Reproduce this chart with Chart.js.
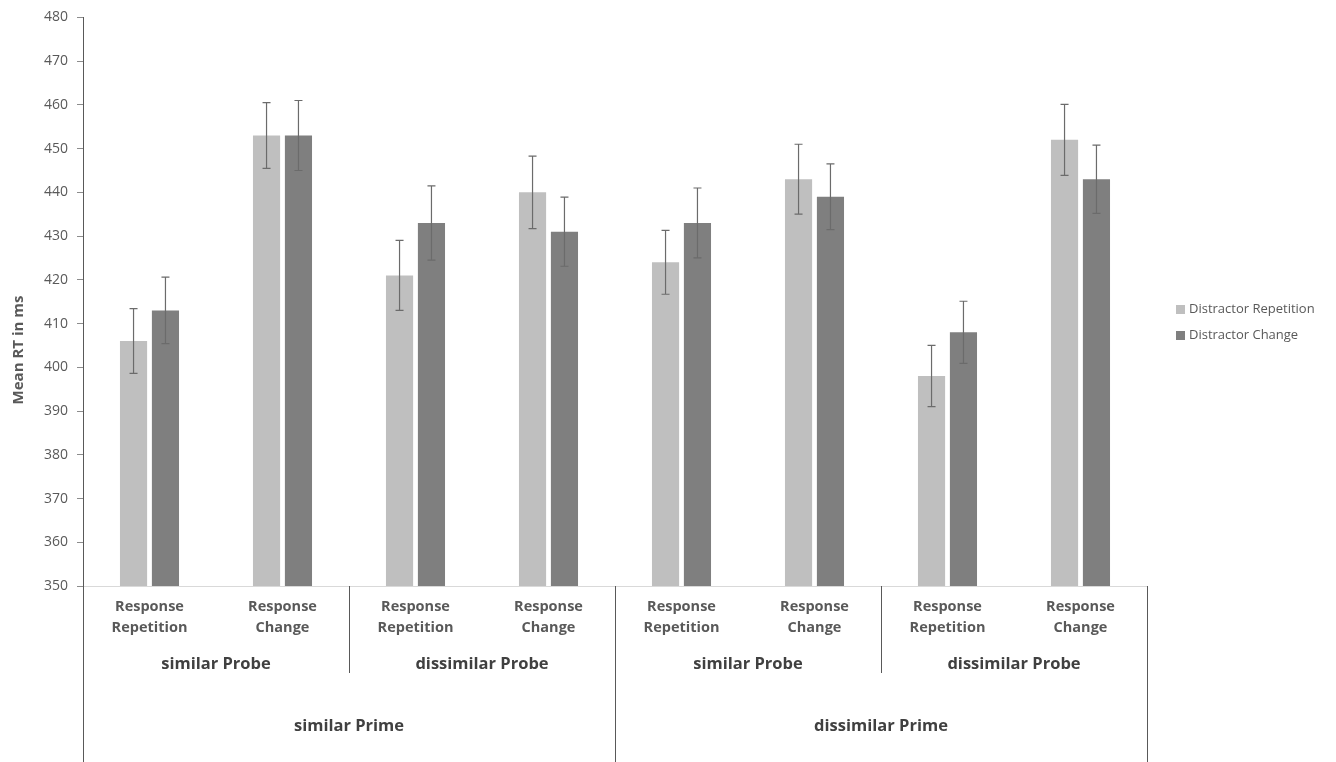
<!DOCTYPE html>
<html>
<head>
<meta charset="utf-8">
<title>Mean RT in ms</title>
<script src="https://cdn.jsdelivr.net/npm/chart.js@4.4.1/dist/chart.umd.min.js"></script>
<style>
  html, body { margin: 0; padding: 0; background: #ffffff; }
  #wrap { position: relative; width: 1336px; height: 762px; }
</style>
</head>
<body>
<div id="wrap"><canvas id="chart" width="1336" height="762"></canvas></div>
<script>
// data
const responseLabels = [
  ["Response", "Repetition"], ["Response", "Change"],
  ["Response", "Repetition"], ["Response", "Change"],
  ["Response", "Repetition"], ["Response", "Change"],
  ["Response", "Repetition"], ["Response", "Change"]
];
const probeLabels = ["similar Probe", "dissimilar Probe", "similar Probe", "dissimilar Probe"];
const primeLabels = ["similar Prime", "dissimilar Prime"];

const seriesNames = ["Distractor Repetition", "Distractor Change"];
const distractorRepetition = [406, 453, 421, 440, 424, 443, 398, 452];
const distractorChange = [413, 453, 433, 431, 433, 439, 408, 443];
const errRepetition = [7.4, 7.5, 8.0, 8.3, 7.3, 8.0, 7.0, 8.1];
const errChange = [7.6, 8.0, 8.5, 7.9, 8.0, 7.5, 7.1, 7.8];

const yTicks = { min: 350, max: 480, step: 10 };
const yTitle = "Mean RT in ms";

const FONT = "'Open Sans', Lato, sans-serif";
const LIGHT = "#bfbfbf";
const DARK = "#7f7f7f";

// error bars on top of each bar
const errorBars = {
  id: "errorBars",
  afterDatasetsDraw(chart) {
    const ctx = chart.ctx;
    const y = chart.scales.y;
    const errs = [errRepetition, errChange];
    ctx.save();
    ctx.strokeStyle = "#6b6b6b";
    ctx.lineWidth = 1.2;
    chart.data.datasets.forEach((ds, di) => {
      const meta = chart.getDatasetMeta(di);
      meta.data.forEach((bar, i) => {
        const v = ds.data[i];
        const top = y.getPixelForValue(v + errs[di][i]);
        const bot = y.getPixelForValue(v - errs[di][i]);
        ctx.beginPath();
        ctx.moveTo(bar.x, top); ctx.lineTo(bar.x, bot);
        ctx.moveTo(bar.x - 4, top); ctx.lineTo(bar.x + 4, top);
        ctx.moveTo(bar.x - 4, bot); ctx.lineTo(bar.x + 4, bot);
        ctx.stroke();
      });
    });
    ctx.restore();
  }
};

// three level category axis, y title and legend on the right
const groupAxis = {
  id: "groupAxis",
  afterDraw(chart) {
    const ctx = chart.ctx;
    const x = chart.scales.x;
    const area = chart.chartArea;
    const n = responseLabels.length;
    const edge = (k) => {
      if (k === 0) return area.left;
      if (k === n) return area.right;
      return (x.getPixelForValue(k - 1) + x.getPixelForValue(k)) / 2;
    };
    ctx.save();
    ctx.textAlign = "center";
    ctx.textBaseline = "middle";

    // level 1
    ctx.fillStyle = "#595959";
    ctx.font = "bold 14.5px " + FONT;
    responseLabels.forEach((lines, i) => {
      const cx = x.getPixelForValue(i);
      ctx.fillText(lines[0], cx, 607);
      ctx.fillText(lines[1], cx, 628);
    });

    // level 2
    ctx.fillStyle = "#404040";
    ctx.font = "bold 16.5px " + FONT;
    probeLabels.forEach((t, j) => {
      ctx.fillText(t, (edge(j * 2) + edge(j * 2 + 2)) / 2, 664);
    });

    // level 3
    primeLabels.forEach((t, j) => {
      ctx.fillText(t, (edge(j * 4) + edge(j * 4 + 4)) / 2, 726);
    });

    // separators
    ctx.strokeStyle = "#595959";
    ctx.lineWidth = 1;
    for (let k = 0; k <= n; k += 2) {
      const px = Math.round(edge(k)) + 0.5;
      const long = k % 4 === 0;
      ctx.beginPath();
      ctx.moveTo(px, area.bottom);
      ctx.lineTo(px, long ? 762 : 673);
      ctx.stroke();
    }

    // y title
    ctx.save();
    ctx.translate(19, 350);
    ctx.rotate(-Math.PI / 2);
    ctx.fillStyle = "#595959";
    ctx.font = "bold 15px " + FONT;
    ctx.fillText(yTitle, 0, 0);
    ctx.restore();

    // legend
    ctx.textAlign = "left";
    ctx.font = "13px " + FONT;
    chart.data.datasets.forEach((ds, di) => {
      const ly = 309 + di * 26;
      ctx.fillStyle = ds.backgroundColor;
      ctx.fillRect(1176, ly - 4, 9, 9);
      ctx.fillStyle = "#595959";
      ctx.fillText(ds.label, 1189, ly);
    });
    ctx.restore();
  }
};

const ctx = document.getElementById("chart").getContext("2d");

let config = {
  type: "bar",
  data: {
    labels: responseLabels.map(l => l.join(" ")),
    datasets: [
      {
        label: seriesNames[0],
        backgroundColor: LIGHT,
        data: distractorRepetition,
      },
      {
        label: seriesNames[1],
        backgroundColor: DARK,
        data: distractorChange,
      },
    ],
  },
  options: {
    responsive: false,
    animation: false,
    datasets: {
      bar: { barPercentage: 0.85, categoryPercentage: 0.48 }
    },
    layout: {
      padding: { top: 17, right: 189, bottom: 168, left: 0 }
    },
    plugins: {
      legend: { display: false },
      title: { display: false },
      tooltip: { enabled: false },
    },
    scales: {
      x: {
        ticks: { display: false },
        grid: { display: false },
        border: { color: "#d9d9d9", width: 1 },
      },
      y: {
        min: yTicks.min,
        max: yTicks.max,
        afterFit(scale) { scale.width = 83; },
        ticks: {
          stepSize: yTicks.step,
          color: "#595959",
          padding: 9,
          font: { family: FONT, size: 14 },
        },
        grid: {
          drawOnChartArea: false,
          tickLength: 6,
          color: "#8c8c8c",
        },
        border: { color: "#595959", width: 1 },
      },
    },
  },
  plugins: [errorBars, groupAxis],
};

new Chart(ctx, config);
</script>
</body>
</html>
